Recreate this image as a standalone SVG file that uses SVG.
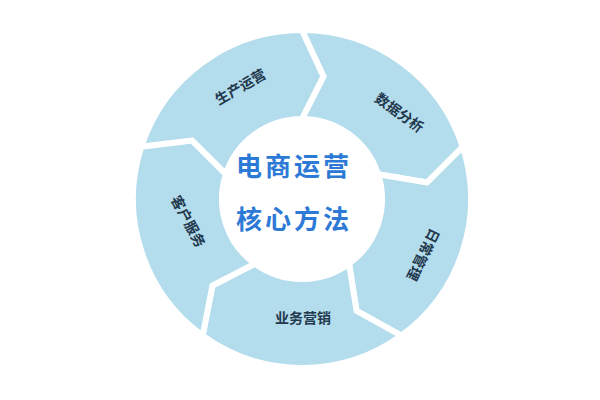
<svg xmlns="http://www.w3.org/2000/svg" width="600" height="400" viewBox="0 0 600 400">
<style>
.seg{fill:#b3dcec;stroke:#ffffff;stroke-width:6;stroke-linejoin:miter}
.lbl{font-family:"Noto Sans CJK SC","Noto Sans",sans-serif;font-size:14px;font-weight:bold;fill:#22384c;text-anchor:middle;dominant-baseline:central}
.ctr{font-family:"Noto Sans CJK SC","Noto Sans",sans-serif;font-size:26px;font-weight:bold;fill:#2d7ad6;text-anchor:middle;letter-spacing:3px}
</style>
<rect width="600" height="400" fill="#ffffff"/>
<g id="connectors"></g>
<g id="node-shengchan">
<path class="seg" d="M141.27,146.78 A169,169 0 0 1 302,30 L323.62,76.39 L302,119 A80,80 0 0 0 225.92,174.28 L192.07,140.55 Z"/>
<text class="lbl" x="240" y="86" transform="rotate(-30 240 86)">生产运营</text>
</g>
<g id="node-shuju">
<path class="seg" d="M302,30 A169,169 0 0 1 462.73,146.78 L427,182.5 L378.08,174.28 A80,80 0 0 0 302,119 L323.62,76.39 Z"/>
<text class="lbl" x="400" y="112" transform="rotate(36 400 112)">数据分析</text>
</g>
<g id="node-richang">
<path class="seg" d="M462.73,146.78 A169,169 0 0 1 401.34,335.72 L356.58,310.9 L349.02,263.72 A80,80 0 0 0 378.08,174.28 L427,182.5 Z"/>
<text class="lbl" x="424" y="255" transform="rotate(116 424 255)">日常管理</text>
</g>
<g id="node-yewu">
<path class="seg" d="M401.34,335.72 A169,169 0 0 1 202.66,335.72 L212.44,285.49 L254.98,263.72 A80,80 0 0 0 349.02,263.72 L356.58,310.9 Z"/>
<text class="lbl" x="303" y="317">业务营销</text>
</g>
<g id="node-kehu">
<path class="seg" d="M202.66,335.72 A169,169 0 0 1 141.27,146.78 L192.07,140.55 L225.92,174.28 A80,80 0 0 0 254.98,263.72 L212.44,285.49 Z"/>
<text class="lbl" x="189" y="221" transform="rotate(62 189 221)">客户服务</text>
</g>
<g id="node-center">
<text class="ctr" x="294" y="176">电商运营</text>
<text class="ctr" x="294" y="229">核心方法</text>
</g>
</svg>
